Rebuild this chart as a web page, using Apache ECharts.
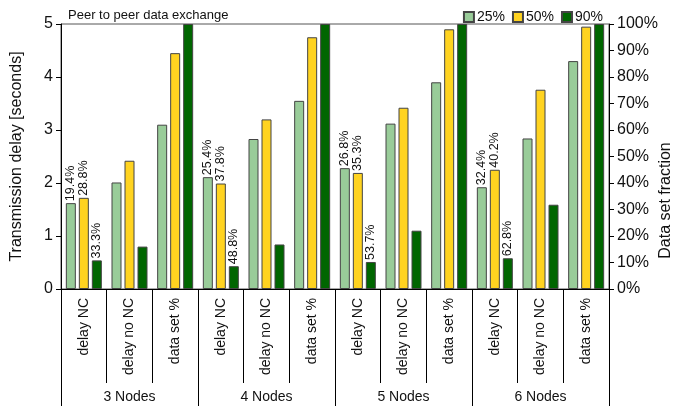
<!DOCTYPE html>
<html>
<head>
<meta charset="utf-8">
<script src="https://cdn.jsdelivr.net/npm/echarts@6/dist/echarts.min.js"></script>
<style>
  html, body { margin: 0; padding: 0; background: #fff; }
  #chart { width: 673px; height: 406px; }
</style>
</head>
<body>
<div id="chart"></div>
<script>
// Node-count groups and the three measures shown for each
const groups = ['3 Nodes', '4 Nodes', '5 Nodes', '6 Nodes'];
const measures = ['delay NC', 'delay no NC', 'data set %'];
const percentiles = ['25%', '50%', '90%'];

// Transmission delay with network coding [seconds]
const delayNC25 = [1.62, 2.11, 2.28, 1.92];
const delayNC50 = [1.72, 1.99, 2.19, 2.25];
const delayNC90 = [0.54, 0.43, 0.51, 0.58];

// Transmission delay without network coding [seconds]
const delayNoNC25 = [2.01, 2.83, 3.12, 2.84];
const delayNoNC50 = [2.42, 3.20, 3.42, 3.76];
const delayNoNC90 = [0.80, 0.84, 1.10, 1.59];

// Fraction of the data set received [%]
const dataSet25 = [62, 71, 78, 86];
const dataSet50 = [89, 95, 98, 99];
const dataSet90 = [100, 100, 100, 100];

// Ratio annotations on the "delay NC" bars
const ratio25 = ['19.4%', '25.4%', '26.8%', '32.4%'];
const ratio50 = ['28.8%', '37.8%', '35.3%', '40.2%'];
const ratio90 = ['33.3%', '48.8%', '53.7%', '62.8%'];

// Left and right axis ranges
const delayMax = 5;
const fractionMax = 100;

const colors = ['#99cc99', '#ffd320', '#006600'];

// Flatten into one category axis: group x measure
const categories = [];
groups.forEach(() => measures.forEach(m => categories.push(m)));

function delayRow(nc, noNc) {
  const out = [];
  groups.forEach((g, i) => { out.push(nc[i], noNc[i], '-'); });
  return out;
}
function dataSetRow(ds) {
  const out = [];
  groups.forEach((g, i) => { out.push('-', '-', ds[i]); });
  return out;
}

const delayRows = [
  delayRow(delayNC25, delayNoNC25),
  delayRow(delayNC50, delayNoNC50),
  delayRow(delayNC90, delayNoNC90)
];
const dataSetRows = [dataSetRow(dataSet25), dataSetRow(dataSet50), dataSetRow(dataSet90)];
const ratioRows = [ratio25, ratio50, ratio90];

const FONT = '"Liberation Sans", Arial, sans-serif';

const series = [];
percentiles.forEach((p, k) => {
  series.push({
    name: p,
    type: 'bar',
    xAxisIndex: 0,
    yAxisIndex: 0,
    barWidth: 10,
    barGap: '30%',
    data: delayRows[k],
    itemStyle: { color: colors[k], borderColor: '#444', borderWidth: 1 },
    label: {
      show: true,
      position: 'top',
      rotate: 90,
      align: 'left',
      verticalAlign: 'middle',
      distance: 2,
      fontFamily: FONT,
      fontSize: 12.5,
      color: '#111',
      formatter: (prm) => (prm.dataIndex % 3 === 0 ? ratioRows[k][Math.floor(prm.dataIndex / 3)] : '')
    }
  });
});
percentiles.forEach((p, k) => {
  series.push({
    name: p,
    type: 'bar',
    xAxisIndex: 1,
    yAxisIndex: 1,
    barWidth: 10,
    barGap: '30%',
    data: dataSetRows[k],
    itemStyle: { color: colors[k], borderColor: '#444', borderWidth: 1 }
  });
});

const chart = echarts.init(document.getElementById('chart'), null, { renderer: 'canvas' });
chart.setOption({
  animation: false,
  backgroundColor: '#fff',
  title: {
    text: 'Peer to peer data exchange',
    left: 63, top: 4,
    textStyle: { fontFamily: FONT, fontSize: 13, fontWeight: 'normal', color: '#111' }
  },
  legend: {
    data: percentiles,
    right: 65, top: 5,
    itemWidth: 10, itemHeight: 10, itemGap: 7,
    icon: 'rect',
    textStyle: { fontFamily: FONT, fontSize: 14, color: '#111', padding: [0, 0, 0, -2] }
  },
  grid: {
    left: 61, right: 64, top: 24, bottom: 117,
    outerBoundsMode: 'none',
    containLabel: false,
    show: true, borderColor: '#555', borderWidth: 1, backgroundColor: 'transparent'
  },
  xAxis: [
    {
      type: 'category',
      data: categories,
      position: 'bottom',
      axisLine: { show: true, lineStyle: { color: '#000', width: 1 } },
      axisTick: { show: true, interval: 0, length: 94, lineStyle: { color: '#000' } },
      axisLabel: {
        interval: 0, rotate: 90, margin: 9,
        fontFamily: FONT, fontSize: 14, color: '#111'
      }
    },
    {
      type: 'category',
      data: categories,
      show: false
    },
    {
      type: 'category',
      data: groups,
      position: 'bottom',
      axisLine: { show: false },
      axisTick: { show: true, interval: 0, length: 117, lineStyle: { color: '#000' } },
      axisLabel: { interval: 0, margin: 101, fontFamily: FONT, fontSize: 14, color: '#111' }
    }
  ],
  yAxis: [
    {
      type: 'value',
      min: 0, max: delayMax, interval: 1,
      name: 'Transmission delay [seconds]',
      nameLocation: 'middle',
      nameGap: 36,
      nameMoveOverlap: false,
      nameTextStyle: { fontFamily: FONT, fontSize: 16, color: '#111' },
      axisLine: { show: true, lineStyle: { color: '#000' } },
      axisTick: { show: true, length: 5, lineStyle: { color: '#000' } },
      axisLabel: { fontFamily: FONT, fontSize: 16, color: '#111', margin: 8 },
      splitLine: { show: false }
    },
    {
      type: 'value',
      min: 0, max: fractionMax, interval: 10,
      position: 'right',
      name: 'Data set fraction',
      nameLocation: 'middle',
      nameRotate: 90,
      nameGap: 49,
      nameMoveOverlap: false,
      nameTextStyle: { fontFamily: FONT, fontSize: 16, color: '#111', padding: [0, 88, 0, 0] },
      axisLine: { show: true, lineStyle: { color: '#000' } },
      axisTick: { show: true, length: 5, lineStyle: { color: '#000' } },
      axisLabel: { fontFamily: FONT, fontSize: 16, color: '#111', margin: 8, formatter: '{value}%' },
      splitLine: { show: false }
    }
  ],
  series: series
});
</script>
</body>
</html>
